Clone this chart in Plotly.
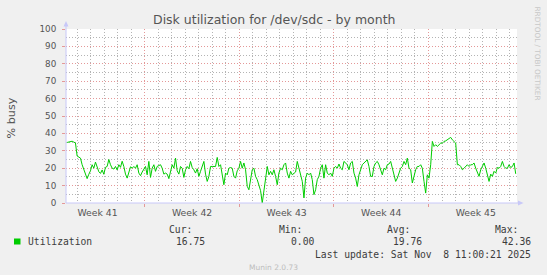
import pandas as pd
import plotly.graph_objects as go

# ---------------- data ----------------
utilization = [
    34.8, 35.0, 35.2, 35.5, 35.0, 34.5, 27.0, 26.5, 25.8, 22.0, 19.0, 16.0, 14.0, 16.5, 18.5, 22.0,
    20.0, 23.5, 21.0, 18.0, 17.0, 19.0, 16.5, 20.5, 21.0, 25.0, 22.0, 20.0, 19.5, 21.0, 19.0, 22.0,
    20.5, 24.0, 21.0, 16.6, 14.3, 18.5, 20.8, 20.0, 21.0, 20.0, 22.0, 17.2, 15.7, 17.8, 19.1, 21.0,
    16.2, 23.9, 14.7, 20.0, 22.0, 18.2, 21.0, 21.5, 22.0, 20.0, 16.6, 17.2, 16.6, 14.0, 18.2, 22.0,
    20.0, 25.8, 18.5, 16.6, 21.0, 20.0,
    14.7, 19.1, 21.0, 19.7, 23.9, 20.4, 19.1, 17.2, 19.7, 15.3, 18.2, 20.6, 23.9, 16.6, 12.4, 15.3,
    21.0, 21.0, 20.8, 21.0, 26.2, 21.0, 22.0, 15.3, 10.5, 17.2, 16.2, 20.0, 20.4, 20.0, 15.3, 14.3,
    18.5, 20.0, 23.9, 20.0, 23.0, 19.1, 9.6, 7.6, 12.4, 19.1, 20.0, 15.3, 13.4, 10.5, 7.1, 0.0,
    7.6, 14.3, 21.0, 16.2, 18.2, 16.2, 19.1, 15.3, 10.5, 17.2, 20.0, 19.1, 22.0, 23.0, 17.2, 14.3,
    18.2, 16.2, 17.2, 17.8,
    23.9, 20.0, 15.3, 12.4, 2.9, 14.3, 17.2, 16.2, 17.2, 13.4, 4.8, 7.6, 13.4, 15.3, 20.0, 22.0,
    14.3, 22.0, 17.2, 16.2, 17.2, 15.3, 20.0, 21.0, 20.0, 22.4, 20.0, 19.1, 23.9, 23.0, 22.0, 19.1,
    23.0, 23.9, 17.2, 14.3, 9.5, 16.2, 19.1, 22.0, 23.0, 23.9, 24.8, 21.0, 15.3, 15.3, 21.0, 23.0,
    23.9, 22.0, 19.1, 16.2, 20.0, 19.1, 22.0, 22.4, 23.9, 20.0, 17.2, 12.4, 14.3, 17.2, 20.0, 21.0,
    23.9, 22.0, 25.8, 20.0, 19.1,
    11.5, 15.3, 19.1, 21.0, 21.0, 22.0, 20.0, 12.4, 5.7, 16.2, 14.3, 22.0, 35.4, 32.5, 33.5, 32.5,
    33.5, 34.4, 34.4, 35.4, 35.7, 36.3, 37.3, 37.7, 36.3, 35.4, 34.4, 22.0, 22.0, 21.0, 19.1, 20.0,
    21.0, 22.0, 21.0, 22.0, 22.0, 23.0, 20.0, 17.2, 15.3, 19.1, 21.0, 23.0, 20.0, 15.3, 12.4, 16.6,
    15.3, 18.2, 17.2, 20.4, 20.0, 21.0, 23.9, 21.0, 20.0, 20.0, 22.0, 20.4, 21.0, 23.0, 16.75,
]
data_start = "2025-10-06 06:00"
data_end = "2025-11-08 11:00"
view_start = "2025-10-06 04:00"
view_end = "2025-11-08 13:15"

week_labels = ["Week 41", "Week 42", "Week 43", "Week 44", "Week 45"]
week_centers = pd.date_range("2025-10-08 12:00", periods=5, freq="7D")
week_bounds = pd.date_range("2025-10-12", periods=4, freq="7D")

y_ticks = [0, 10, 20, 30, 40, 50, 60, 70, 80, 90, 100]

title_text = "Disk utilization for /dev/sdc - by month"
y_title = "% busy"
series_name = "Utilization"
stat_labels = ["Cur:", "Min:", "Avg:", "Max:"]
stat_values = ["16.75", "0.00", "19.76", "42.36"]
last_update = "Last update: Sat Nov\u00a0\u00a08 11:00:21 2025"
footer = "Munin 2.0.73"
side_text = "RRDTOOL / TOBI OETIKER"

times = pd.date_range(data_start, data_end, periods=len(utilization))

# ---------------- styling / geometry ----------------
W, H = 547, 275
L, R, T, B = 66, 30, 29, 72
PW, PH = W - L - R, H - T - B
GREEN = "#00cc00"
GREY_GRID = "#b4b4b4"
RED_GRID = "#e49898"
AXIS = "#c8c8f8"
TXT = "#555555"
LEG = "#3c3c3c"


def px(x):
    return (x - L) / PW


def py(y):
    return (H - B - y) / PH


fig = go.Figure()
fig.add_trace(go.Scatter(x=times, y=utilization, mode="lines",
                         line=dict(color=GREEN, width=1), name=series_name,
                         showlegend=False, hoverinfo="skip"))

fig.update_layout(
    width=W, height=H,
    margin=dict(l=L, r=R, t=T, b=B, pad=0),
    paper_bgcolor="#f0f0f0", plot_bgcolor="#ffffff",
    showlegend=False,
    xaxis=dict(type="date", range=[view_start, view_end],
               tickmode="array", tickvals=list(week_bounds), ticktext=[""] * len(week_bounds),
               showgrid=True, gridcolor=RED_GRID, griddash="1px,2px", gridwidth=1,
               ticks="outside", ticklen=3, tickcolor=RED_GRID,
               minor=dict(dtick=86400000, tick0="2025-10-05", showgrid=True,
                          gridcolor=GREY_GRID, griddash="1px,2px", gridwidth=1),
               showline=False, zeroline=False, fixedrange=True),
    xaxis2=dict(type="date", range=[view_start, view_end], overlaying="x", side="bottom",
                anchor="y",
                tickmode="array", tickvals=list(week_centers), ticktext=week_labels,
                showgrid=False, ticks="", showline=False, zeroline=False,
                tickfont=dict(family="DejaVu Sans", size=9.3, color=TXT),
                ticklabelstandoff=3),
    yaxis=dict(range=[0, 100], tickmode="array", tickvals=y_ticks,
               ticktext=[str(v) for v in y_ticks],
               showgrid=True, gridcolor=RED_GRID, griddash="1px,2px", gridwidth=1,
               minor=dict(dtick=5, showgrid=True, gridcolor=GREY_GRID,
                          griddash="1px,2px", gridwidth=1),
               ticks="outside", ticklen=3, tickcolor=RED_GRID,
               tickfont=dict(family="DejaVu Sans", size=8.8, color=TXT),
               ticklabelstandoff=4,
               showline=False, zeroline=False, fixedrange=True),
)

# invisible helper trace on xaxis2 so the overlay axis renders
fig.add_trace(go.Scatter(x=[week_centers[0]], y=[None], xaxis="x2", yaxis="y",
                         mode="lines", showlegend=False, hoverinfo="skip"))

shapes = [
    # axis lines with arrows
    dict(type="line", xref="paper", yref="paper", x0=px(66), x1=px(66), y0=py(203), y1=py(25),
         line=dict(color=AXIS, width=1)),
    dict(type="line", xref="paper", yref="paper", x0=px(66), x1=px(519), y0=py(203), y1=py(203),
         line=dict(color=AXIS, width=1)),
    dict(type="path", xref="paper", yref="paper",
         path=f"M {px(63.5)} {py(26.5)} L {px(68.5)} {py(26.5)} L {px(66)} {py(21)} Z",
         fillcolor=AXIS, line=dict(width=0)),
    dict(type="path", xref="paper", yref="paper",
         path=f"M {px(518)} {py(200.5)} L {px(518)} {py(205.5)} L {px(523.5)} {py(203)} Z",
         fillcolor=AXIS, line=dict(width=0)),
    # legend colour box
    dict(type="rect", xref="paper", yref="paper", x0=px(14), x1=px(20.5), y0=py(238.5), y1=py(244.5),
         fillcolor=GREEN, line=dict(width=0)),
]
fig.update_layout(shapes=shapes)

ann = []


def add_text(text, x, y, size, color, family, xanchor="center", angle=0):
    ann.append(dict(text=text, x=px(x), y=py(y), xref="paper", yref="paper",
                    showarrow=False, xanchor=xanchor, yanchor="middle", textangle=angle,
                    font=dict(size=size, color=color, family=family)))


add_text(title_text, 273.5, 19.5, 12.5, TXT, "DejaVu Sans")
add_text(y_title, 10.5, 118, 11.2, TXT, "DejaVu Sans", angle=-90)
add_text(side_text, 537, 53.5, 7.3, "#c8c8c8", "DejaVu Sans", angle=90)

mono = "DejaVu Sans Mono"
stat_label_right = [194, 303.6, 411.7, 519.9]
stat_value_right = [206.6, 315.8, 424, 532.8]
for lbl, xr in zip(stat_labels, stat_label_right):
    add_text(lbl, xr, 229.5, 9.7, LEG, mono, xanchor="right")
add_text(series_name, 25.5, 241.8, 9.7, LEG, mono, xanchor="left")
for val, xr in zip(stat_values, stat_value_right):
    add_text(val, xr, 241.8, 9.7, LEG, mono, xanchor="right")
add_text(last_update, 532.8, 254.5, 9.7, LEG, mono, xanchor="right")
add_text(footer, 273, 267.5, 7.5, "#bdbdbd", "DejaVu Sans")

fig.update_layout(annotations=ann)

fig.write_html("out.html", config={"displayModeBar": False})
